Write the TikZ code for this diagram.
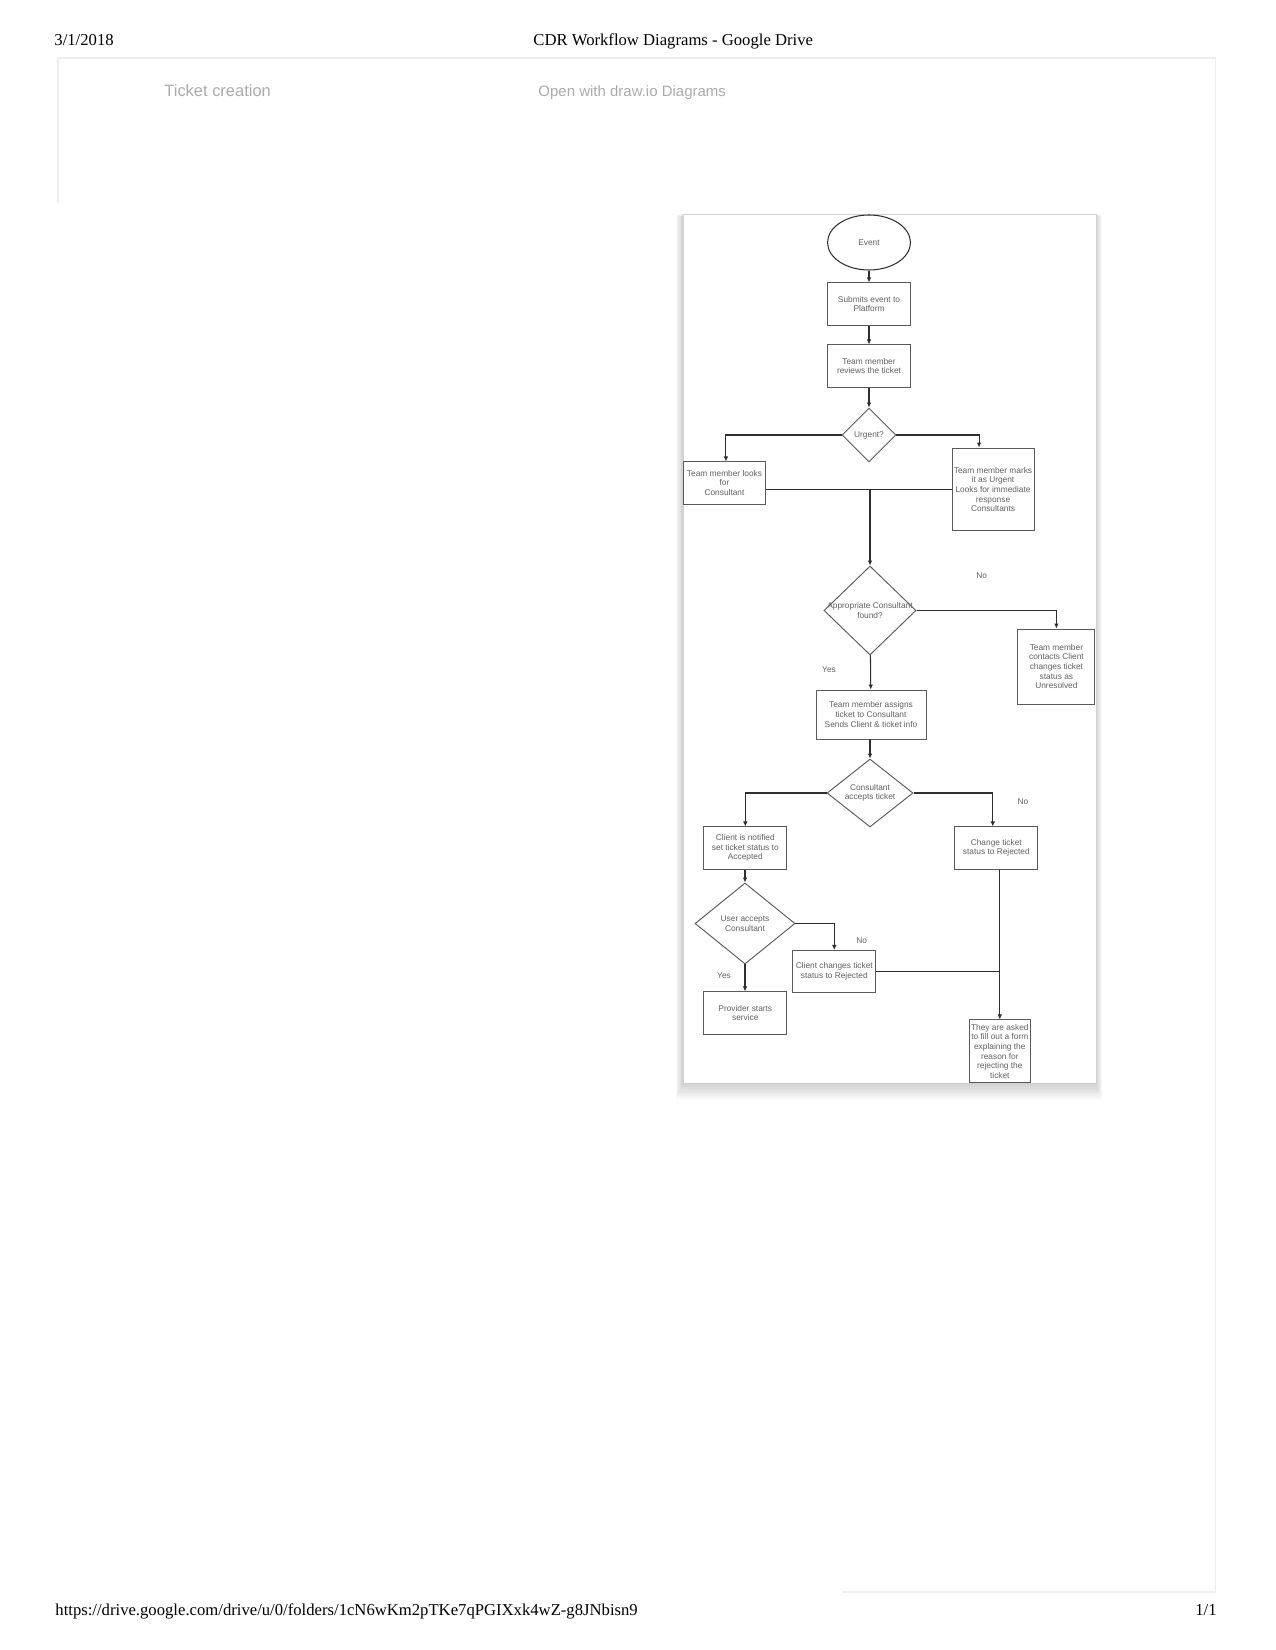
\documentclass[tikz,border=0pt]{standalone}
\usepackage{fontspec}
\setmainfont{Liberation Serif}
\newfontfamily\diagfont{Liberation Sans}
\usetikzlibrary{shapes.geometric,arrows.meta}
\definecolor{boxline}{HTML}{5A5A5A}
\definecolor{boxtext}{HTML}{606060}
\definecolor{conn}{HTML}{2E2E2E}
\definecolor{drivegray}{HTML}{ABABAB}
\definecolor{panelline}{HTML}{EEEEEE}
\tikzset{
  every picture/.style={x=0.48pt,y=-0.48pt},
  txt/.style={font=\diagfont\fontsize{4}{4.6}\selectfont, text=boxtext, align=center, inner sep=0.5pt},
  procbox/.style={txt, draw=boxline, line width=0.45pt, rectangle, minimum width=39.7pt, minimum height=20.2pt},
  decision/.style={draw=boxline, line width=0.45pt, diamond, inner sep=0pt},
  startnode/.style={txt, draw=conn, line width=0.5pt, ellipse, minimum width=39.8pt, minimum height=26.4pt},
  conn/.style={draw=conn, line width=0.5pt},
  arr/.style={conn, -{Latex[length=2.4pt,width=2.2pt]}},
  lbl/.style={txt},
  hdr/.style={font=\fontsize{8}{9.6}\selectfont, inner sep=0pt, anchor=base west},
  drv/.style={font=\diagfont\fontsize{7.4}{9}\selectfont, text=drivegray, inner sep=0pt, anchor=base west},
}
\begin{document}
\begin{tikzpicture}
\useasboundingbox (0,0) rectangle (1275,1650);
\fill[white] (0,0) rectangle (1275,1650);

% page header / footer
\node[hdr] (date) at (54,46) {3/1/2018};
\node[hdr] (title) at (533,46) {CDR Workflow Diagrams - Google Drive};
\node[hdr] (url) at (55,1615) {https://drive.google.com/drive/u/0/folders/1cN6wKm2pTKe7qPGIXxk4wZ-g8JNbisn9};
\node[hdr, anchor=base east] (pg) at (1217,1615) {1/1};

% drive panel
\draw[panelline, line width=0.5pt] (58,203) -- (58,58) -- (1215,58) -- (1215,1592) -- (842,1592);
\node[drv, font=\diagfont\fontsize{7.9}{9}\selectfont] (tc) at (164,97) {Ticket creation};
\node[drv, font=\diagfont\fontsize{7.2}{9}\selectfont] (ow) at (538,97) {Open with draw.io Diagrams};

% diagram frame with soft shadow
\foreach \i in {1,...,9} {
  \fill[black, opacity=0.018] (683-0.8*\i,214+0.2*\i) rectangle (1096+0.7*\i,1083+1.9*\i);
}
\fill[white] (683,214) rectangle (1096,1083);
\draw[black!18, line width=0.3pt] (683,214) rectangle (1096,1083);

% nodes
\node[startnode] (event) at (869,242.5) {Event};
\node[procbox] (submit) at (869,304) {Submits event to\\Platform};
\node[procbox] (review) at (869,366) {Team member\\reviews the ticket};
\node[decision, minimum width=25.9pt, minimum height=25.9pt, label={[txt]center:Urgent?}] (urgent) at (869,435) {};
\node[procbox] (looks) at (724.5,483) {Team member looks\\for\\Consultant};
\node[procbox, minimum width=39.4pt, minimum height=39.8pt] (marks) at (993,489.5) {Team member marks\\it as Urgent\\Looks for immediate\\response\\Consultants};
\node[decision, minimum width=44.2pt, minimum height=42.7pt, label={[txt]center:Appropriate Consultant\\found?}] (appr) at (870,610.5) {};
\node[procbox, minimum width=37pt, minimum height=36pt] (unres) at (1056.4,666.5) {Team member\\contacts Client\\changes ticket\\status as\\Unresolved};
\node[procbox, minimum width=52.8pt, minimum height=23.5pt] (assign) at (871,714.5) {Team member assigns\\ticket to Consultant\\Sends Client \& ticket info};
\node[decision, minimum width=41.3pt, minimum height=32.6pt, label={[txt]center:Consultant\\accepts ticket}] (cacc) at (870,793) {};
\node[procbox] (notified) at (745.3,848) {Client is notified\\set ticket status to\\Accepted};
\node[procbox] (change) at (996.3,848) {Change ticket\\status to Rejected};
\node[decision, minimum width=48pt, minimum height=38.9pt, label={[txt]center:User accepts\\Consultant}] (uacc) at (745,923.5) {};
\node[procbox] (cchg) at (834.3,971.5) {Client changes ticket\\status to Rejected};
\node[procbox] (prov) at (745.3,1013) {Provider starts\\service};
\node[procbox, minimum width=29.6pt, minimum height=30.1pt] (asked) at (999.8,1051.3) {They are asked\\to fill out a form\\explaining the\\reason for\\rejecting the\\ticket};

% labels
\node[lbl] (no1) at (981.7,576) {No};
\node[lbl] (yes1) at (829,670) {Yes};
\node[lbl] (no2) at (1023,801.7) {No};
\node[lbl] (no3) at (861.7,940.7) {No};
\node[lbl] (yes2) at (724,976) {Yes};

% connectors
\draw[arr] (event) -- (submit);
\draw[arr] (submit) -- (review);
\draw[arr] (review) -- (urgent);
\draw[arr] (urgent.west) -| ([xshift=0.7pt]looks.north);
\draw[arr] (urgent.east) -| ([xshift=-6.7pt]marks.north);
\draw[conn] (marks.west) -- (marks.west -| looks.east);
\draw[arr] (appr.north |- marks.west) -- (appr.north);
\draw[arr] (appr.east) -| (unres.north);
\draw[arr] (appr) -- (assign);
\draw[arr] (assign.south -| cacc.north) -- (cacc.north);
\draw[arr] (cacc.west) -| (notified.north);
\draw[arr] (cacc.east) -| ([xshift=-1.7pt]change.north);
\draw[arr] (notified.south -| uacc.north) -- (uacc.north);
\draw[arr] (uacc.east) -| (cchg.north);
\draw[arr] (uacc.south) -- (uacc.south |- prov.north);
\draw[arr] (change.south -| asked.north) -- (asked.north);
\draw[conn] (cchg.east) -- (cchg.east -| asked.north);
\end{tikzpicture}
\end{document}
